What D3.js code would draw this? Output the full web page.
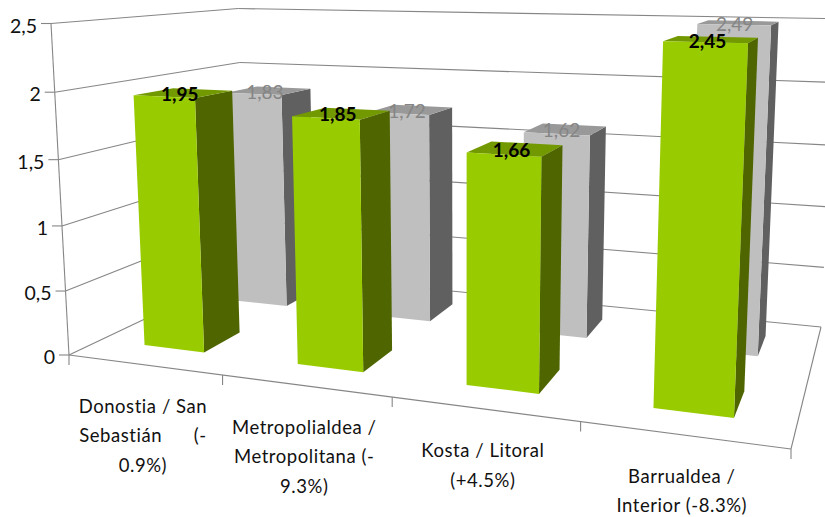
<!DOCTYPE html>
<html lang="en">
  <head>
    <meta charset="utf-8" />
    <title>3d bars</title>
    <script type="text/javascript" src="https://d3js.org/d3.v7.min.js"></script>
    <style>
      html, body { margin: 0; padding: 0; background: #fff; }
      svg { display: block; font-family: Lato, "Open Sans", sans-serif; }
      text { white-space: pre; }
    </style>
  </head>
  <body>
    <div id="graph"></div>
    <script type="text/javascript">
      /***************
       * data
       ***************/
      const categories = ["donostia", "metropolitana", "litoral", "interior"];
      const categoryLines = [
        ["Donostia / San", "Sebastián      (-", "0.9%)"],
        ["Metropolialdea /", "Metropolitana (-", "9.3%)"],
        ["Kosta / Litoral", "(+4.5%)"],
        ["Barrualdea /", "Interior (-8.3%)"],
      ];
      const seriesNames = ["front", "back"];
      const frontValues = [1.95, 1.85, 1.66, 2.45];
      const backValues = [1.83, 1.72, 1.62, 2.49];
      const valueTicks = [0, 0.5, 1, 1.5, 2, 2.5];
      const valueTickLabels = ["0", "0,5", "1", "1,5", "2", "2,5"];

      /***************
       * svg + scales
       ***************/
      const width = 825;
      const height = 517;

      const svg = d3
        .select("div#graph")
        .append("svg")
        .attr("width", width)
        .attr("height", height);

      // world units: x and z across the floor, y up, all 0..1
      const xScale = d3.scaleBand().domain(categories).range([0, 1]).paddingInner(0.6).paddingOuter(0.3);
      const zScale = d3.scaleBand().domain(seriesNames).range([0, 1]).paddingInner(0.6).paddingOuter(0.3);
      const yScale = d3.scaleLinear().domain([0, 2.5]).range([0, 1]);

      /***************
       * perspective: floor corners on screen, then the top of the axis
       ***************/
      const fl = [69, 355], fr = [791, 449], br = [821, 327], bl = [246, 271];
      const axisTop = [51, 23.5];
      const tilt = -0.0436; // how fast w shrinks going up

      const dx1 = fr[0] - br[0], dx2 = bl[0] - br[0], sx = fl[0] - fr[0] + br[0] - bl[0];
      const dy1 = fr[1] - br[1], dy2 = bl[1] - br[1], sy = fl[1] - fr[1] + br[1] - bl[1];
      const det = dx1 * dy2 - dx2 * dy1;
      const wx = (sx * dy2 - dx2 * sy) / det;
      const wz = (dx1 * sy - sx * dy1) / det;
      const ux = fr[0] - fl[0] + wx * fr[0];
      const uz = bl[0] - fl[0] + wz * bl[0];
      const vx = fr[1] - fl[1] + wx * fr[1];
      const vz = bl[1] - fl[1] + wz * bl[1];
      const uy = axisTop[0] * (1 + tilt) - fl[0];
      const vy = axisTop[1] * (1 + tilt) - fl[1];

      function project(x, y, z) {
        const w = wx * x + wz * z + tilt * y + 1;
        return [
          (ux * x + uz * z + uy * y + fl[0]) / w,
          (vx * x + vz * z + vy * y + fl[1]) / w,
        ];
      }

      const line = d3.line();
      const gridColor = "#868686";

      function drawLine(g, a, b) {
        g.append("path")
          .attr("d", line([a, b]))
          .attr("fill", "none")
          .attr("stroke", gridColor)
          .attr("stroke-width", 1.1);
      }

      /***************
       * walls, floor, ticks
       ***************/
      const grid = svg.append("g").attr("class", "grid");

      valueTicks.forEach((t, i) => {
        const y = yScale(t);
        const p0 = project(0, y, 0);
        if (t > 0) {
          drawLine(grid, p0, project(0, y, 1));
          drawLine(grid, project(0, y, 1), project(1, y, 1));
        }
        drawLine(grid, [p0[0] - 10, p0[1]], p0);
        svg
          .append("text")
          .attr("x", p0[0] - 14)
          .attr("y", p0[1] + 9)
          .attr("text-anchor", "end")
          .attr("font-size", 19.5)
          .attr("fill", "#111")
          .text(valueTickLabels[i]);
      });

      drawLine(grid, project(0, 0, 0), project(0, 1, 0));
      drawLine(grid, project(0, 0, 0), project(1, 0, 0));
      drawLine(grid, project(1, 0, 0), project(1, 0, 1));
      drawLine(grid, project(1, 0, 1), project(0, 0, 1));
      drawLine(grid, project(0, 0, 1), project(0, 0, 0));

      d3.range(categories.length + 1).forEach((i) => {
        const p = project(i / categories.length, 0, 0);
        drawLine(grid, p, [p[0], p[1] + 10]);
      });

      /***************
       * bars
       ***************/
      const seriesStyle = {
        back: { front: "#bfbfbf", side: "#606060", top: "#999999" },
        front: { front: "#99cc00", side: "#4f6600", top: "#739900" },
      };

      function drawBars(name, values) {
        const colors = seriesStyle[name];
        const z0 = zScale(name), z1 = z0 + zScale.bandwidth();
        const g = svg.append("g").attr("class", "bars-" + name);

        categories.forEach((c, i) => {
          const x0 = xScale(c), x1 = x0 + xScale.bandwidth();
          const y = yScale(values[i]);
          const faces = [
            { fill: colors.side, pts: [[x1, 0, z0], [x1, 0, z1], [x1, y, z1], [x1, y, z0]] },
            { fill: colors.top, pts: [[x0, y, z0], [x1, y, z0], [x1, y, z1], [x0, y, z1]] },
            { fill: colors.front, pts: [[x0, 0, z0], [x1, 0, z0], [x1, y, z0], [x0, y, z0]] },
          ];
          g.selectAll(null)
            .data(faces)
            .enter()
            .append("path")
            .attr("d", (f) => line(f.pts.map((p) => project(p[0], p[1], p[2]))) + "Z")
            .attr("fill", (f) => f.fill);
        });
      }

      drawBars("back", backValues);
      drawBars("front", frontValues);

      /***************
       * labels
       ***************/
      const decimal = (v) => d3.format(".2f")(v).replace(".", ",");

      function drawValueLabels(name, values, color, weight) {
        const zMid = zScale(name) + zScale.bandwidth() / 2;
        svg
          .append("g")
          .selectAll("text")
          .data(values)
          .enter()
          .append("text")
          .attr("x", (d, i) => project(xScale(categories[i]) + xScale.bandwidth() / 2, yScale(d), zMid)[0] - 4)
          .attr("y", (d, i) => project(xScale(categories[i]) + xScale.bandwidth() / 2, yScale(d), zMid)[1] + 8)
          .attr("text-anchor", "middle")
          .attr("font-size", 19)
          .attr("font-weight", weight)
          .attr("fill", color)
          .text(decimal);
      }

      drawValueLabels("back", backValues, "#858585", 400);
      drawValueLabels("front", frontValues, "#000", 700);

      categories.forEach((c, i) => {
        const p = project(xScale(c) + xScale.bandwidth() / 2, 0, 0);
        svg
          .append("g")
          .selectAll("text")
          .data(categoryLines[i])
          .enter()
          .append("text")
          .attr("x", p[0] - 1)
          .attr("y", (d, j) => p[1] + 48 + j * 29.5)
          .attr("text-anchor", "middle")
          .attr("font-size", 18.5)
          .attr("letter-spacing", 0.55)
          .attr("fill", "#111")
          .text((d) => d);
      });
    </script>
  </body>
</html>
